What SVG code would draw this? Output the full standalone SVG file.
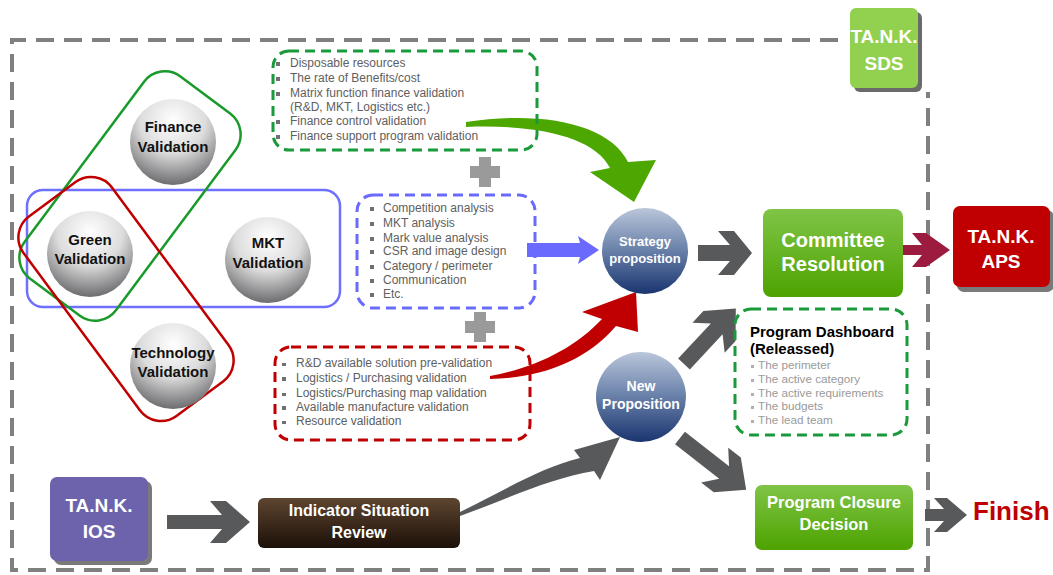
<svg xmlns="http://www.w3.org/2000/svg" width="1053" height="575" viewBox="0 0 1053 575">
<style>
text{font-family:"Liberation Sans",Arial,sans-serif}
.frame{fill:none;stroke:#808080;stroke-width:4;stroke-dasharray:18 10}
.item{font-size:12px;fill:#606060}
.dim{font-size:11.7px;fill:#9a9a9a}
.bul{fill:#707070}
.sph{font-size:15px;font-weight:bold;fill:#111;text-anchor:middle}
.wt{font-weight:bold;fill:#fff;text-anchor:middle}
.garrow{fill:#58595b}
.dg{fill:none;stroke:#1a9a3a;stroke-width:3;stroke-dasharray:10 6}
.db{fill:none;stroke:#6a6aff;stroke-width:3;stroke-dasharray:10 6}
.dr{fill:none;stroke:#c00000;stroke-width:3;stroke-dasharray:10 6}
</style>
<defs>
<radialGradient id="gs" cx="0.5" cy="0.25" r="0.85">
<stop offset="0" stop-color="#ffffff"/><stop offset="0.45" stop-color="#dcdcdc"/><stop offset="1" stop-color="#4e4e52"/>
</radialGradient>
<linearGradient id="bs" x1="0" y1="0" x2="0" y2="1">
<stop offset="0" stop-color="#bac6da"/><stop offset="0.45" stop-color="#6f86ad"/><stop offset="1" stop-color="#1a3570"/>
</linearGradient>
<linearGradient id="gb" x1="0" y1="0" x2="0" y2="1">
<stop offset="0" stop-color="#80c447"/><stop offset="1" stop-color="#4da300"/>
</linearGradient>
<linearGradient id="br" x1="0" y1="0" x2="0" y2="1">
<stop offset="0" stop-color="#5e4530"/><stop offset="1" stop-color="#1c1008"/>
</linearGradient>
</defs>

<path class="frame" d="M838,40 L12,40 L12,570 L928,570 L928,92"/>

<g id="connectors">
<polygon class="garrow" points="698,245 730,245 718,231 734,231 752,253 734,275 718,275 730,261 698,261"/>
<polygon fill="#9b1c3e" points="903,245 922,245 912,233 926,233 950,250 926,267 912,267 922,255 903,255"/>
<polygon class="garrow" points="167,515 222,515 210,501 226,501 250,522 226,543 210,543 222,529 167,529"/>
<polygon class="garrow" points="925,509 944,509 934,498 947,498 967,515 947,532 934,532 944,521 925,521"/>
<polygon class="garrow" transform="translate(684,364) rotate(-47)" points="0,-8 48,-8 36,-22 52,-22 76,0 52,22 36,22 48,8 0,8"/>
<polygon class="garrow" transform="translate(680,438) rotate(38)" points="0,-8 56,-8 44,-22 60,-22 84,0 60,22 44,22 56,8 0,8"/>
<polygon fill="#6a6aff" points="527,243 580,243 578,236 599,250 578,264 580,257 527,257"/>
<path fill="#4ca800" d="M466,122 C545,110 610,125 628,162 L656,160 L634,202 L590,172 L610,168 C595,138 540,124 466,127 Z"/>
<path fill="#c00000" d="M490,379 C540,378 585,362 616,326 L638,332 L636,292 L582,312 L602,319 C575,348 535,368 490,376 Z"/>
<path fill="#58595b" d="M460,512 C505,490 540,468 580,458 L574,450 L620,437 L600,480 L594,471 C550,478 505,500 460,516 Z"/>
<path fill="#9a9a9a" d="M479,157 h12 v9 h9 v12 h-9 v9 h-12 v-9 h-9 v-12 h9 Z"/>
<path fill="#9a9a9a" d="M474,312 h12 v9 h9 v12 h-9 v9 h-12 v-9 h-9 v-12 h9 Z"/>
</g>

<g id="groups">
<rect x="27" y="190" width="313" height="117" rx="16" fill="none" stroke="#7070ff" stroke-width="2.5"/>
<rect x="-57" y="-126" width="114" height="252" rx="26" fill="none" stroke="#1a9a2a" stroke-width="2.5" transform="translate(130,196) rotate(36.7)"/>
<rect x="-55" y="-124" width="110" height="248" rx="26" fill="none" stroke="#c00000" stroke-width="2.5" transform="translate(126,299) rotate(-36.5)"/>
</g>

<g id="finance"><circle cx="173" cy="142" r="43" fill="url(#gs)"/><text class="sph" x="173" y="132">Finance</text><text class="sph" x="173" y="152">Validation</text></g>
<g id="green"><circle cx="90" cy="254" r="43" fill="url(#gs)"/><text class="sph" x="90" y="245">Green</text><text class="sph" x="90" y="264">Validation</text></g>
<g id="mkt"><circle cx="268" cy="260" r="43" fill="url(#gs)"/><text class="sph" x="268" y="248">MKT</text><text class="sph" x="268" y="268">Validation</text></g>
<g id="technology"><circle cx="173" cy="366" r="43" fill="url(#gs)"/><text class="sph" x="173" y="358">Technology</text><text class="sph" x="173" y="377">Validation</text></g>

<g id="finance-list">
<rect class="dg" x="273" y="51" width="264" height="99" rx="16"/>
<g class="bul"><rect x="276" y="62" width="4" height="4"/><rect x="276" y="77" width="4" height="4"/><rect x="276" y="92" width="4" height="4"/><rect x="276" y="120" width="4" height="4"/><rect x="276" y="135" width="4" height="4"/></g>
<text class="item" x="290" y="67">Disposable resources</text>
<text class="item" x="290" y="82">The rate of Benefits/cost</text>
<text class="item" x="290" y="97">Matrix function finance validation</text>
<text class="item" x="290" y="111">(R&amp;D, MKT, Logistics etc.)</text>
<text class="item" x="290" y="125">Finance control validation</text>
<text class="item" x="290" y="140">Finance support program validation</text>
</g>

<g id="mkt-list">
<rect class="db" x="357" y="195" width="178" height="113" rx="16"/>
<g class="bul"><rect x="370" y="207" width="4" height="4"/><rect x="370" y="222" width="4" height="4"/><rect x="370" y="237" width="4" height="4"/><rect x="370" y="250" width="4" height="4"/><rect x="370" y="265" width="4" height="4"/><rect x="370" y="279" width="4" height="4"/><rect x="370" y="293" width="4" height="4"/></g>
<text class="item" x="383" y="212">Competition analysis</text>
<text class="item" x="383" y="227">MKT analysis</text>
<text class="item" x="383" y="242">Mark value analysis</text>
<text class="item" x="383" y="255">CSR and image design</text>
<text class="item" x="383" y="270">Category / perimeter</text>
<text class="item" x="383" y="284">Communication</text>
<text class="item" x="383" y="298">Etc.</text>
</g>

<g id="tech-list">
<rect class="dr" x="275" y="347" width="255" height="93" rx="16"/>
<g class="bul"><rect x="282" y="363" width="4" height="3"/><rect x="282" y="377" width="4" height="4"/><rect x="282" y="393" width="4" height="3"/><rect x="282" y="406" width="4" height="4"/><rect x="282" y="421" width="4" height="3"/></g>
<text class="item" x="296" y="367">R&amp;D available solution pre-validation</text>
<text class="item" x="296" y="382">Logistics / Purchasing validation</text>
<text class="item" x="296" y="397">Logistics/Purchasing map validation</text>
<text class="item" x="296" y="411">Available manufacture validation</text>
<text class="item" x="296" y="425">Resource validation</text>
</g>

<g id="strategy"><circle cx="645" cy="251" r="43" fill="url(#bs)"/><text class="wt" x="645" y="246" font-size="13">Strategy</text><text class="wt" x="645" y="263" font-size="13">proposition</text></g>
<g id="new-proposition"><circle cx="641" cy="397" r="45" fill="url(#bs)"/><text class="wt" x="641" y="391" font-size="14">New</text><text class="wt" x="641" y="409" font-size="14">Proposition</text></g>

<g id="committee"><rect x="763" y="209" width="140" height="88" rx="8" fill="url(#gb)"/><text class="wt" x="833" y="247" font-size="20">Committee</text><text class="wt" x="833" y="271" font-size="20">Resolution</text></g>

<g id="aps"><rect x="957" y="210" width="97" height="82" rx="7" fill="#7a7a7a"/><rect x="953" y="206" width="97" height="81" rx="7" fill="#c00000"/><text class="wt" x="1001" y="243" font-size="19">TA.N.K.</text><text class="wt" x="1001" y="268" font-size="19">APS</text></g>

<g id="sds"><rect x="854" y="12" width="68" height="80" rx="6" fill="#6a6a6a"/><rect x="850" y="8" width="68" height="80" rx="6" fill="#92d050"/><text class="wt" x="884" y="43" font-size="19">TA.N.K.</text><text class="wt" x="884" y="70" font-size="19">SDS</text></g>

<g id="ios"><rect x="54" y="481" width="98" height="84" rx="7" fill="#7a7a7a"/><rect x="50" y="477" width="98" height="84" rx="7" fill="#6c63ac"/><text class="wt" x="99" y="512" font-size="19">TA.N.K.</text><text class="wt" x="99" y="538" font-size="19">IOS</text></g>

<g id="indicator"><rect x="258" y="498" width="202" height="50" rx="6" fill="url(#br)"/><text class="wt" x="359" y="516" font-size="16">Indicator Situation</text><text class="wt" x="359" y="538" font-size="16">Review</text></g>

<g id="dashboard">
<rect class="dg" x="735" y="309" width="172" height="126" rx="16"/>
<text x="750" y="337" font-size="15" font-weight="bold" fill="#000">Program Dashboard</text>
<text x="750" y="354" font-size="15" font-weight="bold" fill="#000">(Releassed)</text>
<g fill="#b0b0b0"><rect x="751" y="365" width="3" height="3"/><rect x="751" y="379" width="3" height="3"/><rect x="751" y="393" width="3" height="3"/><rect x="751" y="406" width="3" height="3"/><rect x="751" y="420" width="3" height="3"/></g>
<text class="dim" x="758" y="369">The perimeter</text>
<text class="dim" x="758" y="383">The active category</text>
<text class="dim" x="758" y="397">The active requirements</text>
<text class="dim" x="758" y="410">The budgets</text>
<text class="dim" x="758" y="424">The lead team</text>
</g>

<g id="closure"><rect x="755" y="485" width="158" height="65" rx="7" fill="url(#gb)"/><text class="wt" x="834" y="508" font-size="16.5">Program Closure</text><text class="wt" x="834" y="530" font-size="16.5">Decision</text></g>

<g id="finish"><text x="973" y="520" font-size="26" font-weight="bold" fill="#c00000">Finish</text></g>
</svg>
